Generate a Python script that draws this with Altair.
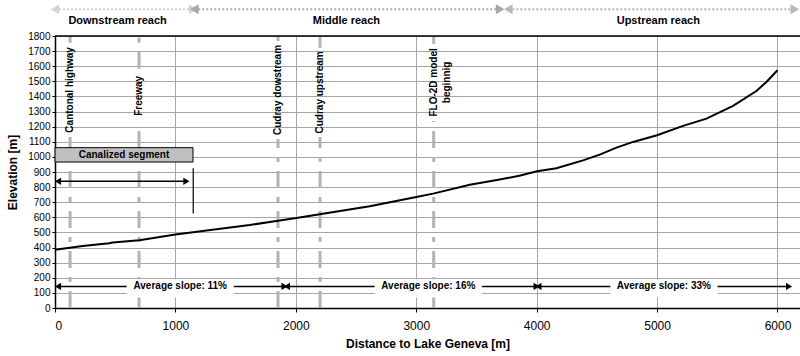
import altair as alt
import pandas as pd
import math

# Longitudinal profile of the torrent bed
distance = [0, 230, 450, 480, 700, 1000, 1340, 1617, 1838, 2005, 2199, 2614, 3001,
            3140, 3445, 3693, 3856, 4003, 4164, 4385, 4524, 4663, 4801, 5000, 5216,
            5410, 5631, 5825, 5908, 6000]
elevation = [386, 410, 428, 434, 448, 486, 521, 549, 576, 595, 620, 673, 735,
             757, 815, 850, 875, 905, 925, 977, 1015, 1061, 1099, 1143, 1205,
             1253, 1337, 1436, 1496, 1573]

# Crossings / landmarks along the channel
marker_pos = [125, 698, 1852, 2201, 3145]
marker_names = ["Cantonal highway", "Freeway", "Cudray dowstream", "Cudray upstream",
                "FLO-2D model\nbeginnig"]
marker_label_lo = [1162, 1255, 1148, 1162, 1268]
marker_label_hi = [1725, 1553, 1738, 1692, 1718]

# Average slope sections
slope_start = [25, 1926, 4015]
slope_end = [1906, 4000, 6096]
slope_level = 143
slope_names = ["Average slope: 11%", "Average slope: 16%", "Average slope: 33%"]
slope_label_x = [1040, 3100, 5057]

# Canalized segment
canal_start, canal_end = 0, 1146
canal_box = [966, 1061]
canal_arrow = [25, 1091]
canal_arrow_level = 838
canal_stop = [625, 925]

# Reaches
reach_names = ["Downstream reach", "Middle reach", "Upstream reach"]
reach_start = [0, 1157, 3764]
reach_end = [1146, 3697, 6144]
reach_label_x = [520, 2420, 5010]
reach_colors = ["#d4d4d4", "#a8a8a8", "#b8b8b8"]
reach_level = 1977
reach_label_level = 1897

FONT = "Liberation Sans"
XMAX = 6187
xs = alt.Scale(domain=[0, XMAX], nice=False, zero=False)
ys = alt.Scale(domain=[0, 1800], nice=False)

x_axis = alt.Axis(values=[0, 1000, 2000, 3000, 4000, 5000, 6000], format="d",
                  grid=True, gridColor="#a6a6a6", gridWidth=1,
                  domainColor="black", domainWidth=1.5,
                  tickColor="black", tickSize=4,
                  labelFontSize=12, labelPadding=8, labelColor="black",
                  titleFontSize=12, titleFontWeight="bold", titlePadding=7,
                  titleColor="black")
y_axis = alt.Axis(values=list(range(0, 1900, 100)), format="d",
                  grid=True, gridColor="#a6a6a6", gridWidth=1,
                  domainColor="black", domainWidth=1.5,
                  tickColor="black", tickSize=3,
                  labelFontSize=10, labelPadding=2, labelColor="black",
                  titleFontSize=12, titleFontWeight="bold", titlePadding=8,
                  titleColor="black")
X_TITLE = "Distance to Lake Geneva [m]"
Y_TITLE = "Elevation [m]"


def X(field):
    return alt.X(field, type="quantitative", scale=xs, axis=x_axis, title=X_TITLE)


def Y(field):
    return alt.Y(field, type="quantitative", scale=ys, axis=y_axis, title=Y_TITLE)


profile_df = pd.DataFrame({"distance": distance, "elevation": elevation})

profile = alt.Chart(profile_df).mark_line(color="black", strokeWidth=2).encode(
    x=X("distance"), y=Y("elevation"))

top_frame = alt.Chart(pd.DataFrame({"y": [1800]})).mark_rule(
    color="black", strokeWidth=1.5).encode(y=Y("y"))

# Landmark dashed lines, interrupted around their labels
seg_rows = []
for pos, lo, hi in zip(marker_pos, marker_label_lo, marker_label_hi):
    seg_rows.append({"x": pos, "y": 0, "y2": lo - 30})
    seg_rows.append({"x": pos, "y": hi + 30, "y2": 1800})
markers = alt.Chart(pd.DataFrame(seg_rows)).mark_rule(
    color="#b3b3b3", strokeWidth=3, strokeDash=[17, 9, 5, 9]).encode(
    x=X("x"), y=Y("y"), y2="y2")

label_df = pd.DataFrame({
    "x": marker_pos,
    "y": [(lo + hi) / 2 for lo, hi in zip(marker_label_lo, marker_label_hi)],
    "name": marker_names,
})
marker_labels = alt.Chart(label_df).mark_text(
    angle=270, align="center", baseline="middle", font=FONT, fontSize=10,
    fontWeight="bold", color="black", lineBreak="\n", lineHeight=13).encode(
    x=X("x"), y=Y("y"), text="name:N")

# Canalized segment box and extent
canal_rect = alt.Chart(pd.DataFrame({"x": [canal_start], "x2": [canal_end],
                                     "y": [canal_box[0]], "y2": [canal_box[1]]})).mark_rect(
    fill="#c0c0c0", stroke="black", strokeWidth=1).encode(
    x=X("x"), x2="x2", y=Y("y"), y2="y2")
canal_text = alt.Chart(pd.DataFrame({"x": [(canal_start + canal_end) / 2],
                                     "y": [sum(canal_box) / 2],
                                     "t": ["Canalized segment"]})).mark_text(
    font=FONT, fontSize=10, fontWeight="bold", color="black").encode(
    x=X("x"), y=Y("y"), text="t:N")
canal_stop_rule = alt.Chart(pd.DataFrame({"x": [canal_end + 2], "y": [canal_stop[0]],
                                          "y2": [canal_stop[1]]})).mark_rule(
    color="black", strokeWidth=1.2).encode(x=X("x"), y=Y("y"), y2="y2")

# Black double arrows (canalized extent + average slopes)
arrow_start = [canal_arrow[0]] + slope_start
arrow_end = [canal_arrow[1]] + slope_end
arrow_level = [canal_arrow_level] + [slope_level] * 3
arrow_lines = alt.Chart(pd.DataFrame({"x": arrow_start, "x2": arrow_end,
                                      "y": arrow_level})).mark_rule(
    color="black", strokeWidth=1.5).encode(x=X("x"), x2="x2", y=Y("y"))

HEAD_BLACK = 50
hb = 0.866 * math.sqrt(HEAD_BLACK) / 2
head_rows = []
for a, b, lv in zip(arrow_start, arrow_end, arrow_level):
    head_rows.append({"x": a, "y": lv, "shape": "triangle-left", "off": hb})
    head_rows.append({"x": b, "y": lv, "shape": "triangle-right", "off": -hb})
arrow_heads = alt.Chart(pd.DataFrame(head_rows)).mark_point(
    filled=True, opacity=1, color="black", size=HEAD_BLACK).encode(
    x=X("x"), y=Y("y"), shape=alt.Shape("shape:N", scale=None),
    xOffset=alt.XOffset("off:Q", scale=None))

# White boxes behind the slope labels
box_half = 445
slope_boxes = alt.Chart(pd.DataFrame({"x": [c - box_half for c in slope_label_x],
                                      "x2": [c + box_half for c in slope_label_x],
                                      "y": [70] * 3, "y2": [190] * 3})).mark_rect(
    fill="white").encode(x=X("x"), x2="x2", y=Y("y"), y2="y2")
slope_text = alt.Chart(pd.DataFrame({"x": slope_label_x, "y": [slope_level] * 3,
                                     "t": slope_names})).mark_text(
    font=FONT, fontSize=10, fontWeight="bold", color="black", baseline="middle").encode(
    x=X("x"), y=Y("y"), text="t:N")

# Reach arrows above the plot
reach_df = pd.DataFrame({"x": reach_start, "x2": reach_end,
                         "y": [reach_level] * 3, "c": reach_colors})
reach_lines = alt.Chart(reach_df).mark_rule(strokeWidth=2, strokeDash=[2, 2]).encode(
    x=X("x"), x2="x2", y=Y("y"), color=alt.Color("c:N", scale=None))
HEAD_GREY = 100
hg = 0.866 * math.sqrt(HEAD_GREY) / 2
rh_rows = []
for a, b, c in zip(reach_start, reach_end, reach_colors):
    rh_rows.append({"x": a, "y": reach_level, "shape": "triangle-left", "off": hg, "c": c})
    rh_rows.append({"x": b, "y": reach_level, "shape": "triangle-right", "off": -hg, "c": c})
reach_heads = alt.Chart(pd.DataFrame(rh_rows)).mark_point(
    filled=True, opacity=1, size=HEAD_GREY).encode(
    x=X("x"), y=Y("y"), shape=alt.Shape("shape:N", scale=None),
    xOffset=alt.XOffset("off:Q", scale=None), color=alt.Color("c:N", scale=None))
reach_text = alt.Chart(pd.DataFrame({"x": reach_label_x, "y": [reach_label_level] * 3,
                                     "t": reach_names})).mark_text(
    font=FONT, fontSize=11, fontWeight="bold", color="black", baseline="middle").encode(
    x=X("x"), y=Y("y"), text="t:N")

chart = alt.layer(
    markers, profile, top_frame, marker_labels, canal_rect, canal_text, canal_stop_rule,
    arrow_lines, arrow_heads, slope_boxes, slope_text,
    reach_lines, reach_heads, reach_text,
).properties(
    width=745, height=272,
    padding={"left": 55, "top": 36, "right": 0, "bottom": 48},
    autosize=alt.AutoSizeParams(type="none"),
    background="white",
).configure_view(stroke=None).configure_axis(
    labelFont=FONT, titleFont=FONT
)

chart.save("out.html", embed_options={"renderer": "svg", "actions": False})
